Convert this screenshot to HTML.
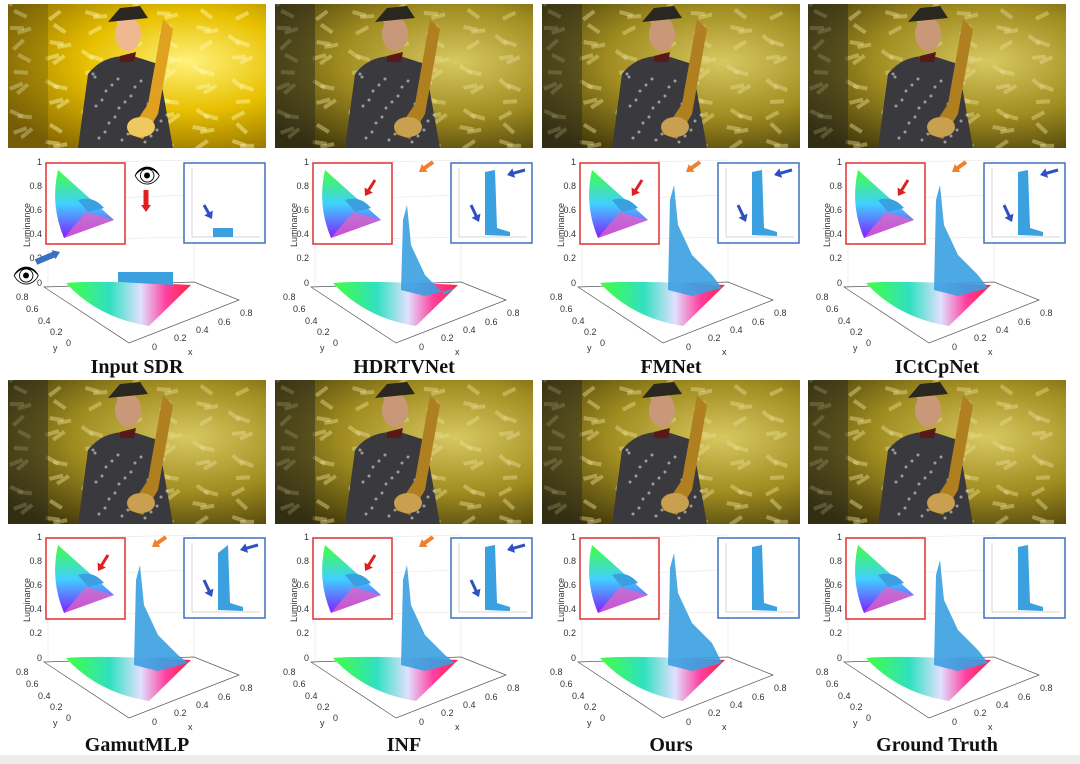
<!DOCTYPE html>
<html><head><meta charset="utf-8"><style>
body{margin:0;width:1080px;height:764px;background:#fff;overflow:hidden;position:relative;font-family:"Liberation Sans",sans-serif}
.photo{position:absolute;width:258px;height:144px;overflow:hidden}
.lbl{position:absolute;width:258px;text-align:center;font-family:"Liberation Serif",serif;font-weight:bold;font-size:20px;color:#111}
svg.ch{position:absolute;width:266px;height:215px}
</style></head><body>
<div style="position:absolute;left:0;top:755px;width:1080px;height:9px;background:#ececec"></div>
<div id="root"></div>
<script>
const cols=[8,275,542,808], rows=[{p:4,c:150,l:356},{p:380,c:525,l:734}];
const names=["Input SDR","HDRTVNet","FMNet","ICtCpNet","GamutMLP","INF","Ours","Ground Truth"];
let h="";
function photo(x,y,i){
 const bright=i==0;
 const bg=bright?"radial-gradient(ellipse at 70% 40%,#fff27a,#e8c000 40%,#8a6a00 85%)":"radial-gradient(ellipse at 70% 40%,#d8c860,#a08c20 45%,#3a3208 90%)";
 let s=`<div class="photo" style="left:${x}px;top:${y}px;background:${bg}">`;
 s+=`<svg width="258" height="144" style="position:absolute;left:0;top:0">`;
 for(let k=0;k<90;k++){const a=(k*37)%258,b=(k*53)%144;s+=`<rect x="${a}" y="${b}" width="14" height="4" fill="${bright?'#fff8b0':'#e8dc90'}" opacity=".45" transform="rotate(${(k*29)%90-45} ${a} ${b})"/>`;}
 s+=`<rect x="0" y="0" width="40" height="144" fill="#2a2a20" opacity="${bright?0.2:0.5}"/>`;
 s+=`<path d="M70 144 L80 70 Q95 50 125 52 L150 60 L165 144Z" fill="#3a3a3e"/>`;
 s+=`<g fill="#ddd" opacity=".6">`;for(let k=0;k<30;k++){s+=`<circle cx="${85+(k*13)%75}" cy="${70+(k*17)%70}" r="1.5"/>`;}s+=`</g>`;
 s+=`<ellipse cx="120" cy="30" rx="13" ry="17" fill="${bright?'#f0b890':'#c89878'}"/>`;
 s+=`<path d="M100 18 L140 14 L132 2 L112 4Z" fill="#2a2620"/>`;
 s+=`<path d="M112 52 L128 48 L126 58 L112 58Z" fill="#5a1818"/>`;
 s+=`<path d="M155 15 L165 25 L150 110 L135 135 L120 130 L140 100Z" fill="${bright?'#e0a020':'#b08020'}"/>`;
 s+=`<ellipse cx="133" cy="123" rx="14" ry="10" fill="${bright?'#f0c860':'#c8a050'}"/>`;
 s+=`</svg></div>`;return s;}
function arrow(x1,y1,x2,y2,c,w){const a=Math.atan2(y2-y1,x2-x1),L=7;
 return `<line x1="${x1}" y1="${y1}" x2="${x2-Math.cos(a)*L*.7}" y2="${y2-Math.sin(a)*L*.7}" stroke="${c}" stroke-width="${w}"/><polygon points="${x2},${y2} ${x2-L*Math.cos(a)+L*.7*Math.sin(a)},${y2-L*Math.sin(a)-L*.7*Math.cos(a)} ${x2-L*Math.cos(a)-L*.7*Math.sin(a)},${y2-L*Math.sin(a)+L*.7*Math.cos(a)}" fill="${c}"/>`;}
function chart(x,y,i){
 let s=`<svg class="ch" style="left:${x-4}px;top:${y}px" viewBox="-4 150 266 215">
 <defs><linearGradient id="g${i}" x1="0" x2="1" y1="0" y2="0"><stop offset="0" stop-color="#40ff40"/><stop offset=".35" stop-color="#30e0c0"/><stop offset=".6" stop-color="#e0e0ff"/><stop offset=".8" stop-color="#ff40a0"/><stop offset="1" stop-color="#ff2040"/></linearGradient>
 <linearGradient id="h${i}" x1="0" x2="0" y1="0" y2="1"><stop offset="0" stop-color="#40ff40"/><stop offset=".5" stop-color="#40d0ff"/><stop offset="1" stop-color="#8020ff"/></linearGradient></defs>`;
 s+=`<g font-size="9" fill="#333" text-anchor="end">`;
 [[1,165],[0.8,189],[0.6,213],[0.4,237],[0.2,261],[0,286]].forEach(t=>s+=`<text x="34" y="${t[1]}">${t[0]}</text>`);
 s+=`</g><text x="22" y="225" font-size="9" fill="#333" transform="rotate(-90 22 225)" text-anchor="middle">Luminance</text>`;
 s+=`<g stroke="#e4e4e4" stroke-width=".6" fill="none"><line x1="40" y1="163" x2="40" y2="287"/><line x1="60" y1="163" x2="186" y2="160"/><line x1="186" y1="160" x2="186" y2="282"/><line x1="40" y1="200" x2="186" y2="195"/><line x1="40" y1="240" x2="186" y2="237"/></g>`;
 s+=`<polygon points="36,287 186,282 231,300 121,343" fill="none" stroke="#555" stroke-width=".7"/>`;
 s+=`<path d="M58 283 Q90 280 183 285 L141 326 Q90 318 58 283Z" fill="url(#g${i})"/>`;
 s+=`<g font-size="9" fill="#333"><text x="8" y="300">0.8</text><text x="18" y="312">0.6</text><text x="30" y="324">0.4</text><text x="42" y="335">0.2</text><text x="58" y="346">0</text><text x="45" y="351">y</text>
 <text x="144" y="350">0</text><text x="166" y="341">0.2</text><text x="188" y="333">0.4</text><text x="210" y="325">0.6</text><text x="232" y="316">0.8</text><text x="180" y="355">x</text></g>`;
 if(i==0){s+=`<path d="M110 282 L110 272 L165 272 L165 285Z" fill="#3aa0e0"/>`;}
 else{const top=[0,205,185,185,190,190,178,185][i];
  s+=`<path d="M126 290 L128 ${top+15} L132 ${top} L136 ${top+40} L150 ${top+70} L170 ${top+90} L180 288 L150 296Z" fill="#3aa0e0" opacity=".9"/>`;
  if(i!=6&&i!=7)s+=arrow(158,162,144,172,"#f08030",4);}
 s+=`<rect x="38" y="163" width="79" height="81" fill="#fff" stroke="#e03030" stroke-width="1.5"/>`;
 s+=`<path d="M50 170 Q42 205 56 238 L106 220 Z" fill="url(#h${i})"/><path d="M78 212 L106 220 L56 238Z" fill="#f060c0" opacity=".7"/>`;
 s+=`<path d="M70 200 Q85 195 96 208 L80 212Z" fill="#3aa0e0"/>`;
 if(i>0&&i!=6&&i!=7)s+=arrow(100,180,90,196,"#e02020",3);
 s+=`<rect x="176" y="163" width="81" height="80" fill="#fff" stroke="#4070c0" stroke-width="1.5"/>`;
 s+=`<line x1="184" y1="168" x2="184" y2="237" stroke="#aaa" stroke-width=".5"/><line x1="184" y1="237" x2="252" y2="237" stroke="#aaa" stroke-width=".5"/>`;
 if(i==0){s+=`<rect x="205" y="228" width="20" height="9" fill="#3aa0e0"/>`+arrow(196,205,204,219,"#3050c0",3);}
 else{s+=`<path d="M210 235 L210 ${i==4?178:172} L220 170 L222 228 L235 232 L235 236Z" fill="#3aa0e0"/>`;
  if(i!=6&&i!=7){s+=arrow(250,170,232,175,"#3050c0",3)+arrow(196,205,204,222,"#3050c0",3);}}
 if(i==0){s+='<text x="125" y="183" font-size="22">👁</text>'+arrow(138,190,138,212,"#e02020",5)+'<text x="4" y="283" font-size="22">👁</text>'+arrow(28,262,52,252,"#3a70c0",6);}
 s+=`</svg>`;return s;}
for(let i=0;i<8;i++){const r=rows[Math.floor(i/4)],x=cols[i%4];
 h+=photo(x,r.p,i)+chart(x,r.c,i)+`<div class="lbl" style="left:${x}px;top:${r.l}px">${names[i]}</div>`;}
document.getElementById("root").innerHTML=h;
</script>
</body></html>
